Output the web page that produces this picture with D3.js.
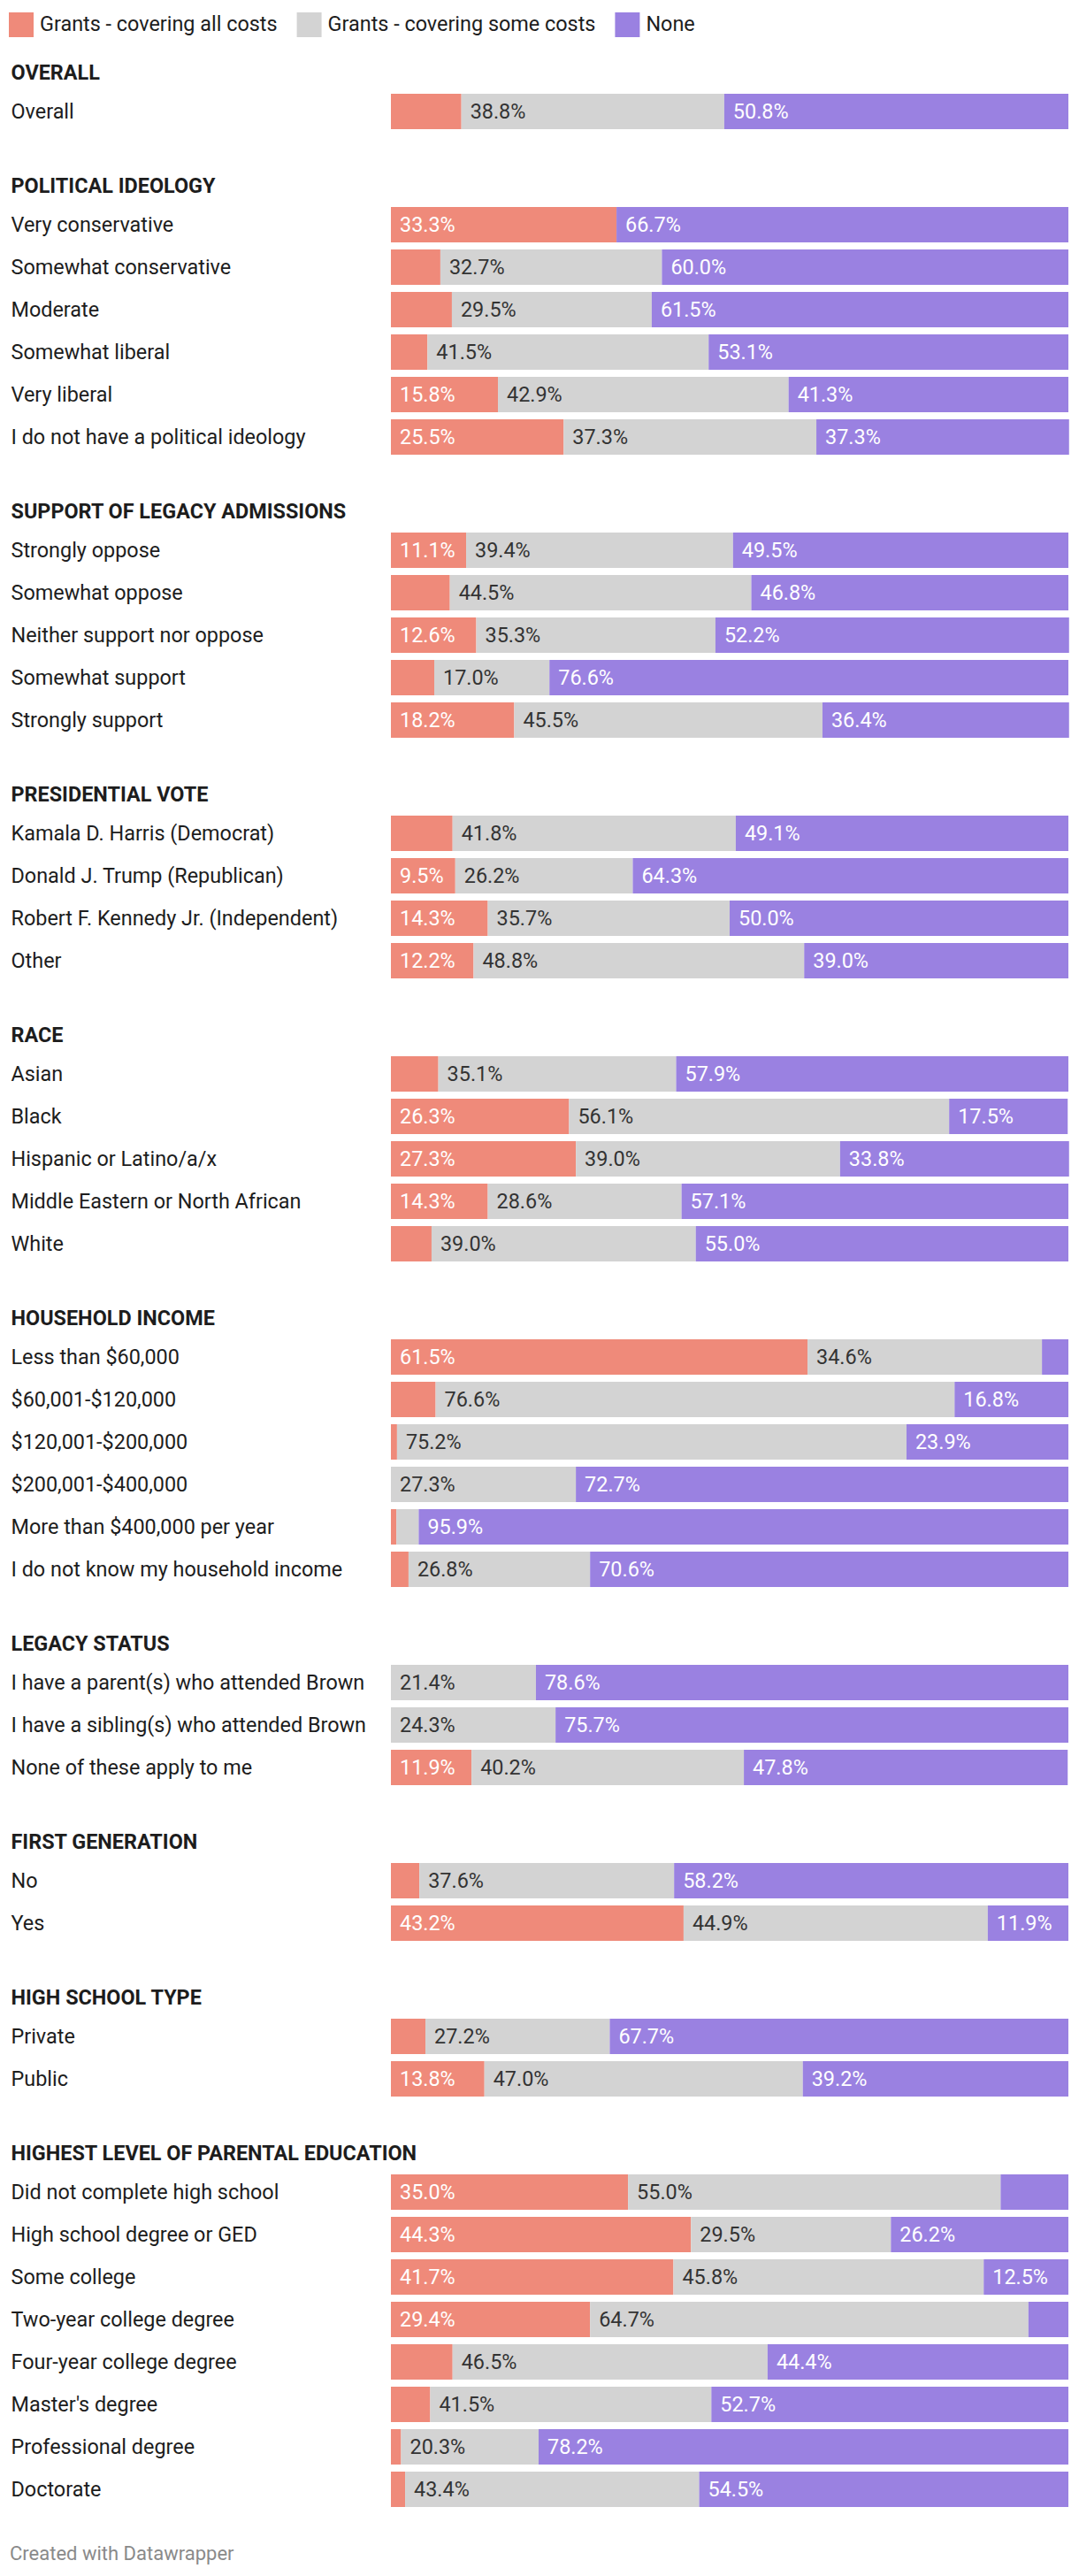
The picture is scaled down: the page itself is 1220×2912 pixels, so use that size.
<!DOCTYPE html>
<html>
<head>
<meta charset="utf-8">
<script src="https://cdn.jsdelivr.net/npm/d3@7"></script>
<style>
  html, body { margin: 0; padding: 0; background: #ffffff; }
  svg { display: block; }
  text { font-family: Roboto, "Noto Sans", sans-serif; }
</style>
</head>
<body>
<svg id="chart" width="1220" height="2912"></svg>
<script>
// ---------- DATA ----------
const seriesNames = ["Grants - covering all costs", "Grants - covering some costs", "None"];
const seriesColors = ["#ef8a7a", "#d3d3d3", "#9a81e1"];

const groups = [
  "OVERALL",
  "POLITICAL IDEOLOGY",
  "SUPPORT OF LEGACY ADMISSIONS",
  "PRESIDENTIAL VOTE",
  "RACE",
  "HOUSEHOLD INCOME",
  "LEGACY STATUS",
  "FIRST GENERATION",
  "HIGH SCHOOL TYPE",
  "HIGHEST LEVEL OF PARENTAL EDUCATION"
];

const categories = [
  "Overall",
  "Very conservative", "Somewhat conservative", "Moderate", "Somewhat liberal", "Very liberal", "I do not have a political ideology",
  "Strongly oppose", "Somewhat oppose", "Neither support nor oppose", "Somewhat support", "Strongly support",
  "Kamala D. Harris (Democrat)", "Donald J. Trump (Republican)", "Robert F. Kennedy Jr. (Independent)", "Other",
  "Asian", "Black", "Hispanic or Latino/a/x", "Middle Eastern or North African", "White",
  "Less than $60,000", "$60,001-$120,000", "$120,001-$200,000", "$200,001-$400,000", "More than $400,000 per year", "I do not know my household income",
  "I have a parent(s) who attended Brown", "I have a sibling(s) who attended Brown", "None of these apply to me",
  "No", "Yes",
  "Private", "Public",
  "Did not complete high school", "High school degree or GED", "Some college", "Two-year college degree", "Four-year college degree", "Master's degree", "Professional degree", "Doctorate"
];

const categoryGroup = [
  0,
  1, 1, 1, 1, 1, 1,
  2, 2, 2, 2, 2,
  3, 3, 3, 3,
  4, 4, 4, 4, 4,
  5, 5, 5, 5, 5, 5,
  6, 6, 6,
  7, 7,
  8, 8,
  9, 9, 9, 9, 9, 9, 9, 9
];

const allCosts = [
  10.4,
  33.3, 7.3, 9.0, 5.4, 15.8, 25.5,
  11.1, 8.7, 12.6, 6.4, 18.2,
  9.1, 9.5, 14.3, 12.2,
  7.0, 26.3, 27.3, 14.3, 6.0,
  61.5, 6.6, 0.9, 0.0, 0.8, 2.6,
  0.0, 0.0, 11.9,
  4.2, 43.2,
  5.1, 13.8,
  35.0, 44.3, 41.7, 29.4, 9.1, 5.8, 1.5, 2.1
];

const someCosts = [
  38.8,
  0.0, 32.7, 29.5, 41.5, 42.9, 37.3,
  39.4, 44.5, 35.3, 17.0, 45.5,
  41.8, 26.2, 35.7, 48.8,
  35.1, 56.1, 39.0, 28.6, 39.0,
  34.6, 76.6, 75.2, 27.3, 3.3, 26.8,
  21.4, 24.3, 40.2,
  37.6, 44.9,
  27.2, 47.0,
  55.0, 29.5, 45.8, 64.7, 46.5, 41.5, 20.3, 43.4
];

const none = [
  50.8,
  66.7, 60.0, 61.5, 53.1, 41.3, 37.3,
  49.5, 46.8, 52.2, 76.6, 36.4,
  49.1, 64.3, 50.0, 39.0,
  57.9, 17.5, 33.8, 57.1, 55.0,
  3.9, 16.8, 23.9, 72.7, 95.9, 70.6,
  78.6, 75.7, 47.8,
  58.2, 11.9,
  67.7, 39.2,
  10.0, 26.2, 12.5, 5.9, 44.4, 52.7, 78.2, 54.5
];

const footerText = "Created with Datawrapper";

// ---------- LAYOUT ----------
const svg = d3.select("#chart");
const FS = 23.4;          // label font size
const barLeft = 442, barRight = 1208;
const barH = 40;
const rowPitch = 48;
const groupExtra = 80 / rowPitch;   // extra gap before each group, in row units

const x = d3.scaleLinear().domain([0, 100]).range([barLeft, barRight]);
const y = d3.scaleLinear().domain([0, 1]).range([106, 106 + rowPitch]);

const rows = categories.map((c, i) => ({
  label: c,
  group: categoryGroup[i],
  values: [allCosts[i], someCosts[i], none[i]],
  pos: i + categoryGroup[i] * groupExtra
}));

// Legend
const legend = svg.append("g").attr("class", "legend");
let lx = 10;
seriesNames.forEach((name, k) => {
  legend.append("rect").attr("x", lx).attr("y", 14).attr("width", 28).attr("height", 28)
    .attr("fill", seriesColors[k]);
  const t = legend.append("text").attr("x", lx + 35).attr("y", 35)
    .attr("font-size", FS).attr("fill", "#1d1d1d").text(name);
  lx = lx + 35 + t.node().getComputedTextLength() + 22;
});

// Group headers
groups.forEach((g, gi) => {
  const first = rows.findIndex(r => r.group === gi);
  svg.append("text")
    .attr("x", 12.5)
    .attr("y", y(rows[first].pos) - 16)
    .attr("font-size", FS).attr("font-weight", 700).attr("fill", "#1d1d1d")
    .text(g);
});

// Row labels
svg.append("g").selectAll("text").data(rows).join("text")
  .attr("x", 12.5)
  .attr("y", d => y(d.pos) + 27.5)
  .attr("font-size", FS).attr("fill", "#1d1d1d")
  .text(d => d.label);

// Stacked bars
const stackData = rows.map((r, i) => ({ key: i, a: r.values[0], b: r.values[1], c: r.values[2] }));
const stack = d3.stack().keys(["a", "b", "c"]);
const layers = stack(stackData);

const barG = svg.append("g");
layers.forEach((layer, k) => {
  const g = barG.append("g").attr("fill", seriesColors[k]);
  g.selectAll("rect").data(layer).join("rect")
    .attr("x", d => x(d[0]))
    .attr("y", (d, i) => y(rows[i].pos))
    .attr("width", d => Math.max(0, x(d[1]) - x(d[0])))
    .attr("height", barH);
});

// Value labels (shown when they fit inside the segment)
const labelG = svg.append("g");
layers.forEach((layer, k) => {
  layer.forEach((d, i) => {
    const v = rows[i].values[k];
    if (!(v > 0)) return;
    const w = x(d[1]) - x(d[0]);
    const t = labelG.append("text")
      .attr("x", x(d[0]) + 10)
      .attr("y", y(rows[i].pos) + 28)
      .attr("font-size", FS)
      .attr("fill", k === 1 ? "#333333" : "#ffffff")
      .text(v.toFixed(1) + "%");
    if (w < t.node().getComputedTextLength() + 21.8) t.remove();
  });
});

// Footer
const lastPos = rows[rows.length - 1].pos;
svg.append("text")
  .attr("x", 11)
  .attr("y", y(lastPos) + barH + 60)
  .attr("font-size", 22).attr("fill", "#8a8a8a")
  .text(footerText);
</script>
</body>
</html>
